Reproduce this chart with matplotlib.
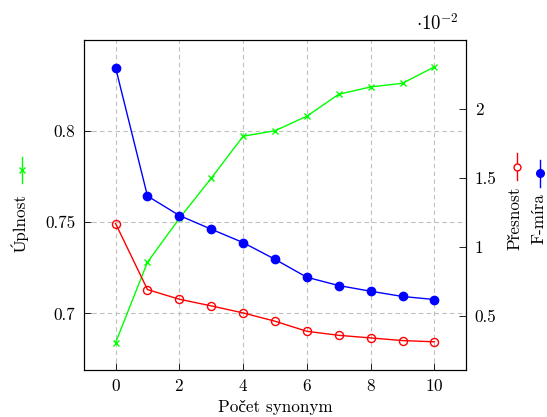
import matplotlib
matplotlib.use('Agg')
import matplotlib.pyplot as plt
from matplotlib.lines import Line2D
from matplotlib.ticker import FuncFormatter, FixedLocator

plt.rcParams['font.family'] = ['cmr10', 'Liberation Serif']
plt.rcParams['mathtext.fontset'] = 'cm'
plt.rcParams['axes.formatter.use_mathtext'] = True
plt.rcParams['axes.unicode_minus'] = False

# data
synonyma = [0, 1, 2, 3, 4, 5, 6, 7, 8, 9, 10]
uplnost = [0.684, 0.728, 0.752, 0.774, 0.797, 0.800, 0.808, 0.820, 0.824, 0.826, 0.835]
presnost = [0.01169, 0.00691, 0.00621, 0.00573, 0.00522, 0.00462, 0.00389,
            0.00360, 0.00341, 0.00322, 0.00313]
fmira = [0.02297, 0.01368, 0.01227, 0.01128, 0.01031, 0.00910, 0.00780,
         0.00720, 0.00679, 0.00641, 0.00619]

W, H = 547, 417
FS = 12.3
fig = plt.figure(figsize=(W / 100, H / 100), dpi=100)
ax = fig.add_axes([83.7 / W, 1 - 370 / H, (466.3 - 83.7) / W, 330 / H])
ax2 = ax.twinx()

ax.plot(synonyma, uplnost, color=(0, 1, 0), marker='x', ms=4, mew=1, lw=1)
ax2.plot(synonyma, presnost, color=(1, 0, 0), marker='o', mfc='none', ms=5.8, mew=1, lw=1)
ax2.plot(synonyma, fmira, color=(0, 0, 1), marker='o', ms=6, lw=1)

ax.set_xlim(-1, 11)
ax.set_ylim(0.669, 0.8497)
ax2.set_ylim(0.00109, 0.02497)
ax.set_xticks([0, 2, 4, 6, 8, 10])
ax.set_yticks([0.7, 0.75, 0.8])
ax.yaxis.set_major_formatter(FuncFormatter(lambda v, p: f'{v:g}'))
ax2.yaxis.set_major_locator(FixedLocator([0.005, 0.01, 0.015, 0.02]))
ax2.yaxis.set_major_formatter(FuncFormatter(lambda v, p: f'{v * 100:g}'))

ax.grid(True, color='#c0c0c0', ls=(0, (4, 3)), lw=0.8)
ax.set_axisbelow(True)
for a in (ax, ax2):
    a.tick_params(direction='in', length=5, width=0.6, labelsize=FS, pad=6)
    for s in a.spines.values():
        s.set_linewidth(0.8)
ax.tick_params(top=False, right=False)
ax2.tick_params(left=False)

ax.set_xlabel('Počet synonym', fontsize=FS, labelpad=4)

# popisky os s ukázkou čáry
fig.text(20 / W, 1 - 223 / H, 'Úplnost', rotation=90, ha='center', va='center', fontsize=FS)
fig.text(515 / W, 1 - 218 / H, 'Přesnost', rotation=90, ha='center', va='center', fontsize=FS)
fig.text(538.5 / W, 1 - 219 / H, 'F-míra', rotation=90, ha='center', va='center', fontsize=FS)

def vzorek(x, y0, y1, ym, **kw):
    fig.add_artist(Line2D([x / W, x / W], [1 - y0 / H, 1 - y1 / H], transform=fig.transFigure,
                          lw=1, color=kw['color']))
    fig.add_artist(Line2D([x / W], [1 - ym / H], transform=fig.transFigure, lw=0, **kw))

vzorek(21.5, 157, 183, 170, color=(0, 1, 0), marker='x', ms=4, mew=1)
vzorek(517, 153, 180, 167, color=(1, 0, 0), marker='o', mfc='white', ms=5, mew=1)
vzorek(540, 160, 187, 173, color=(0, 0, 1), marker='o', ms=5.5)

fig.text(459 / W, 1 - 24 / H, r'$\cdot 10^{-2}$', ha='right', va='center', fontsize=13.5)

fig.savefig('out.png', dpi=100)
